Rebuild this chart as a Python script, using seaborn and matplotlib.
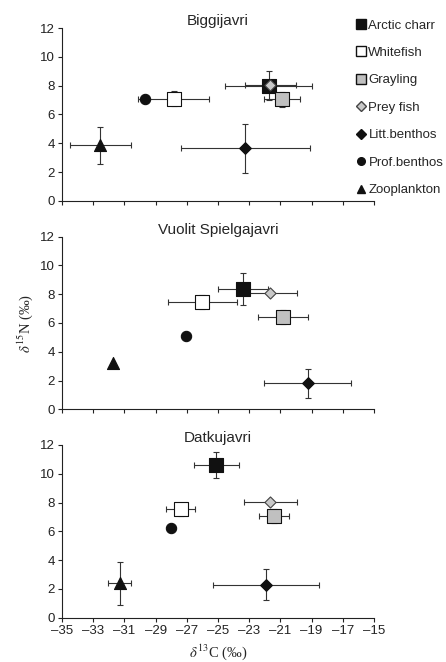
import numpy as np
import pandas as pd
import seaborn as sns
import matplotlib.pyplot as plt
from matplotlib.lines import Line2D

sns.set_style('ticks')
plt.rcParams['font.family'] = ['Liberation Sans', 'DejaVu Sans']
plt.rcParams['mathtext.fontset'] = 'stix'

lakes = ['Biggijavri', 'Vuolit Spielgajavri', 'Datkujavri']
groups = ['Arctic charr', 'Whitefish', 'Grayling', 'Prey fish',
          'Litt.benthos', 'Prof.benthos', 'Zooplankton']

# d13C means, per lake (same order as groups)
c13 = [[-21.75, -27.85, -20.9, -21.65, -23.25, -29.7, -32.55],
       [-23.4, -26.0, -20.85, -21.65, -19.25, -27.05, -31.75],
       [-25.1, -27.4, -21.4, -21.65, -21.9, -28.0, -31.3]]
c13_sd = [[2.8, 2.25, 1.15, 1.65, 4.15, 0, 1.95],
          [1.6, 2.2, 1.6, 1.7, 2.8, 0, 0],
          [1.45, 0.95, 0.95, 1.7, 3.4, 0, 0.75]]
# d15N means
n15 = [[8.0, 7.1, 7.05, 8.05, 3.65, 7.05, 3.85],
       [8.35, 7.45, 6.4, 8.05, 1.8, 5.1, 3.2],
       [10.6, 7.55, 7.05, 8.05, 2.3, 6.25, 2.4]]
n15_sd = [[1.0, 0.5, 0.5, 0.1, 1.7, 0, 1.25],
          [1.1, 0.5, 0.5, 0.1, 1.0, 0, 0],
          [0.9, 0.45, 0.5, 0.1, 1.1, 0, 1.5]]

marker_map = {'Arctic charr': 's', 'Whitefish': 's', 'Grayling': 's', 'Prey fish': 'D',
              'Litt.benthos': 'D', 'Prof.benthos': 'o', 'Zooplankton': '^'}
face_map = {'Arctic charr': '#111111', 'Whitefish': 'white', 'Grayling': '#c0c0c0',
            'Prey fish': '#c8c8c8', 'Litt.benthos': '#111111', 'Prof.benthos': '#111111',
            'Zooplankton': '#111111'}
size_map = {'Arctic charr': 115, 'Whitefish': 100, 'Grayling': 100, 'Prey fish': 32,
            'Litt.benthos': 36, 'Prof.benthos': 55, 'Zooplankton': 75}
edge_map = {'Prey fish': '#444444'}

fig = plt.figure(figsize=(4.46, 6.62), dpi=100)
boxes = [[0.139, 0.6964, 0.6996, 0.2613],
         [0.139, 0.3817, 0.6996, 0.2608],
         [0.139, 0.0669, 0.6996, 0.2609]]

for i, lake in enumerate(lakes):
    ax = fig.add_axes(boxes[i])
    df = pd.DataFrame({'group': groups, 'c13': c13[i], 'c13_sd': c13_sd[i],
                       'n15': n15[i], 'n15_sd': n15_sd[i]})
    for _, r in df.iterrows():
        if r.c13_sd > 0 or r.n15_sd > 0:
            ax.errorbar(r.c13, r.n15,
                        xerr=r.c13_sd if r.c13_sd > 0 else None,
                        yerr=r.n15_sd if r.n15_sd > 0 else None,
                        fmt='none', ecolor='#333333', elinewidth=0.8,
                        capsize=2, capthick=0.8, zorder=2)
    for g in groups:
        sub = df[df.group == g]
        sns.scatterplot(data=sub, x='c13', y='n15', ax=ax, marker=marker_map[g],
                        s=size_map[g], color=face_map[g],
                        edgecolor=edge_map.get(g, '#111111'), linewidth=0.8,
                        zorder=3, legend=False)
    ax.set_xlim(-35, -15)
    ax.set_ylim(0, 12)
    ax.set_xticks(np.arange(-35, -14, 2))
    ax.set_yticks(np.arange(0, 13, 2))
    ax.tick_params(labelsize=9.5, length=3, width=0.8, pad=2, colors='#222222')
    sns.despine(ax=ax)
    for s in ['left', 'bottom']:
        ax.spines[s].set_linewidth(0.8)
        ax.spines[s].set_color('#222222')
    ax.set_title(lake, fontsize=11, pad=2)
    ax.set_xlabel('')
    ax.set_ylabel('')
    if i < 2:
        ax.set_xticklabels([])
    else:
        ax.set_xticklabels([str(v).replace('-', '\u2013') for v in range(-35, -14, 2)])
        ax.set_xlabel(r'$\delta^{13}$C (‰)', family='Liberation Serif', fontsize=10.5)
    if i == 1:
        ax.set_ylabel(r'$\delta^{15}$N (‰)', family='Liberation Serif', fontsize=10.5)
    if i == 0:
        handles = [Line2D([], [], linestyle='none', marker=marker_map[g],
                          markerfacecolor=face_map[g],
                          markeredgecolor=edge_map.get(g, '#111111'),
                          markersize=7 if marker_map[g] == 's' else 5.5)
                   for g in groups]
        ax.legend(handles, groups, loc='upper left', bbox_to_anchor=(0.925, 1.08),
                  frameon=False, fontsize=9.5, labelspacing=1.15, handlelength=0.7,
                  handletextpad=0.25, borderaxespad=0)

fig.savefig('out.png', dpi=100)
